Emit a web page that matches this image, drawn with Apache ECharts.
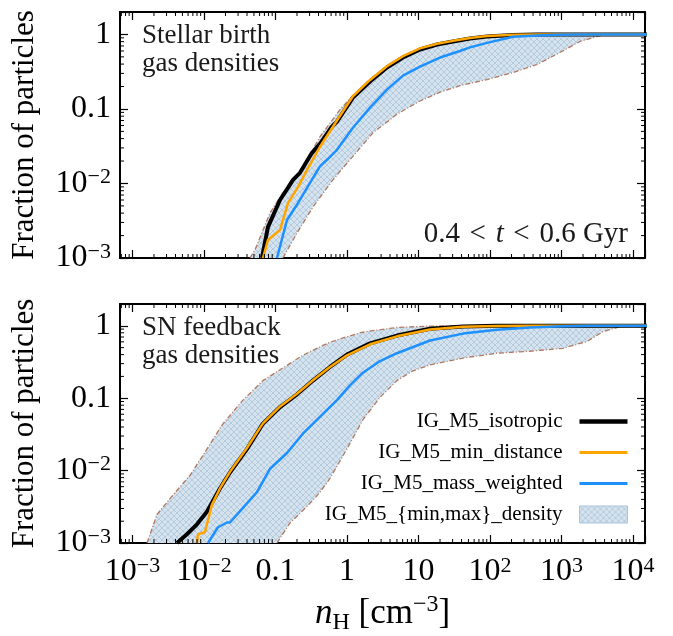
<!DOCTYPE html>
<html>
<head>
<meta charset="utf-8">
<script src="https://cdn.jsdelivr.net/npm/echarts@6/dist/echarts.min.js"></script>
<style>
  html, body { margin: 0; padding: 0; background: #fff; }
  #chart { width: 673px; height: 636px; }
</style>
</head>
<body>
<div id="chart"></div>
<script>
// cumulative fractions: [n_H (cm^-3), fraction]
// top panel: stellar birth gas densities
var birthIsotropic = [[0.0647,0.001],[0.0785,0.0026],[0.1156,0.006],[0.15,0.0088],[0.176,0.0112],[0.22,0.0139],[0.324,0.0258],[0.419,0.034],[0.616,0.058],[0.724,0.0675],[1.21,0.142],[2.1,0.233],[3.62,0.36],[6.07,0.49],[10.5,0.628],[18.2,0.733],[30.4,0.805],[52.5,0.883],[90.7,0.94],[210,0.985],[454,0.998],[952,1],[20000,1]];
var birthMinDistance = [[0.0668,0.001],[0.0785,0.00174],[0.1156,0.00238],[0.15,0.00548],[0.207,0.009],[0.276,0.0152],[0.419,0.0311],[0.724,0.07],[1.21,0.148],[2.1,0.245],[3.62,0.375],[6.07,0.51],[10.5,0.65],[18.2,0.75],[30.4,0.82],[52.5,0.895],[90.7,0.95],[210,0.99],[454,1],[20000,1]];
var birthMassWeighted = [[0.105,0.001],[0.145,0.00324],[0.207,0.00548],[0.304,0.0102],[0.419,0.017],[0.525,0.0208],[0.724,0.0283],[1.21,0.056],[2.1,0.104],[3.62,0.182],[6.07,0.28],[10.5,0.37],[20,0.49],[38,0.6],[52.5,0.67],[90.7,0.77],[210,0.93],[454,0.97],[952,0.99],[1815,1],[20000,1]];
var birthMaxBound = [[0.044,0.001],[0.0516,0.00128],[0.0838,0.00402],[0.127,0.00747],[0.2,0.0123],[0.276,0.0208],[0.419,0.0424],[0.798,0.098],[1.21,0.152],[2.1,0.25],[3.62,0.38],[6.07,0.515],[10.5,0.655],[18.2,0.755],[30.4,0.825],[52.5,0.9],[90.7,0.955],[210,0.99],[454,1],[14700,1]];
var birthMinBound = [[0.127,0.001],[0.2,0.00216],[0.334,0.00484],[0.637,0.0112],[1.1,0.0208],[2.31,0.048],[5.0,0.085],[10.5,0.128],[20,0.168],[38,0.205],[90.7,0.248],[210,0.308],[454,0.395],[952,0.573],[1815,0.805],[3140,0.94],[4330,1],[14700,1]];

// bottom panel: SN feedback gas densities
var fbIsotropic = [[0.00419,0.001],[0.00578,0.00132],[0.00798,0.00181],[0.011,0.00271],[0.0168,0.00571],[0.0231,0.0094],[0.0399,0.0198],[0.0668,0.0446],[0.116,0.0755],[0.2,0.113],[0.334,0.175],[0.578,0.27],[1.0,0.4],[2.1,0.571],[5.0,0.733],[14.5,0.91],[41.9,0.98],[125,1],[20000,1]];
var fbMinDistance = [[0.00798,0.001],[0.00824,0.00132],[0.0103,0.00141],[0.0129,0.00336],[0.0168,0.00571],[0.0231,0.0096],[0.0399,0.0205],[0.0668,0.045],[0.116,0.077],[0.2,0.115],[0.334,0.177],[0.578,0.27],[1.0,0.39],[2.1,0.555],[5.0,0.715],[14.5,0.89],[41.9,0.97],[125,0.995],[362,1],[20000,1]];
var fbMassWeighted = [[0.0114,0.001],[0.0157,0.00165],[0.021,0.00192],[0.0231,0.00192],[0.0351,0.00306],[0.0551,0.00505],[0.0838,0.0106],[0.145,0.0175],[0.243,0.0326],[0.419,0.0553],[0.724,0.094],[1.1,0.15],[1.67,0.225],[2.9,0.326],[5.0,0.418],[14.5,0.627],[41.9,0.78],[125,0.883],[362,0.95],[1050,0.985],[2275,1],[20000,1]];
var fbMaxBound = [[0.0016,0.001],[0.0022,0.00247],[0.00368,0.00459],[0.00637,0.00855],[0.011,0.0198],[0.0185,0.0446],[0.0351,0.094],[0.0668,0.175],[0.127,0.262],[0.243,0.393],[0.461,0.537],[0.578,0.59],[0.879,0.68],[1.67,0.82],[5.0,0.95],[14.5,0.99],[41.9,1],[14700,1]];
var fbMinBound = [[0.105,0.001],[0.16,0.0019],[0.276,0.0032],[0.419,0.005],[0.578,0.0078],[1.0,0.02],[1.67,0.0504],[2.9,0.103],[5.0,0.175],[8.37,0.239],[14.5,0.288],[41.9,0.358],[125,0.418],[362,0.445],[1050,0.489],[2275,0.608],[3800,0.83],[6580,0.97],[9000,1],[14700,1]];

var seriesNames = ['IG_M5_isotropic', 'IG_M5_min_distance', 'IG_M5_mass_weighted', 'IG_M5_{min,max}_density'];

var FONT = 'Liberation Serif';
var xMin = 6.7e-4, xMax = 1.47e4, yMin = 1e-3, yMax = 2;
var EDGE = 'rgba(170,100,70,0.85)';

// crosshatch fill like matplotlib 'xxx'
function makeHatch() {
  var c = document.createElement('canvas');
  c.width = 6; c.height = 6;
  var g = c.getContext('2d');
  g.fillStyle = '#d5e3ee';
  g.fillRect(0, 0, 6, 6);
  g.strokeStyle = '#b5cbdd';
  g.lineWidth = 1;
  g.beginPath();
  g.moveTo(0, 0); g.lineTo(6, 6);
  g.moveTo(6, 0); g.lineTo(0, 6);
  g.stroke();
  return { image: c, repeat: 'repeat' };
}
var HATCH = makeHatch();

// legend handle: a horizontal bar of given thickness inside a 48x17 box
// (tiny corner specks keep the box size so the bar is not stretched)
function barIcon(t) {
  var y0 = (17 - t) / 2, y1 = y0 + t;
  return 'path://M0,0L0.01,0L0,0.01Z M0,' + y0 + 'H48V' + y1 + 'H0Z M48,17L47.99,17L48,16.99Z';
}

function powLabel(v) {
  var e = Math.log10(v), k = Math.round(e);
  if (Math.abs(e - k) > 1e-6) return '';
  if (k === 0) return '1';
  if (k === 1) return '10';
  if (k === -1) return '0.1';
  return '10{sup|' + (k < 0 ? '\u2212' + (-k) : k) + '}';
}

var tickRich = {
  sup: { fontSize: 22, fontFamily: FONT, verticalAlign: 'top', lineHeight: 22 }
};

function minorValues(lo, hi) {
  var out = [];
  for (var k = -4; k <= 4; k++) {
    for (var m = 2; m <= 9; m++) {
      var v = m * Math.pow(10, k);
      if (v > lo && v < hi) out.push(v);
    }
  }
  return out;
}
var minorX = minorValues(xMin, xMax);
var minorY = minorValues(yMin, yMax);

function xAx(grid, pos, labels) {
  var ax = {
    type: 'log', logBase: 10, gridIndex: grid, position: pos, min: xMin, max: xMax,
    axisLine: { show: true, onZero: false, lineStyle: { color: '#000', width: 2 } },
    axisTick: { show: true, inside: true, length: 8, lineStyle: { color: '#000', width: 1.2 } },
    axisLabel: { show: labels, interval: 0, formatter: powLabel, margin: 12, color: '#000',
                 fontFamily: FONT, fontSize: 32, lineHeight: 34, rich: tickRich },
    splitLine: { show: false }
  };
  if (labels) {
    ax.name = '{i|n}{sub|H} [cm{sup|\u22123}]';
    ax.nameLocation = 'middle';
    ax.nameGap = 50;
    ax.nameTextStyle = {
      color: '#000', fontFamily: FONT, fontSize: 35, lineHeight: 42,
      rich: {
        i: { fontStyle: 'italic', fontSize: 35, fontFamily: FONT, lineHeight: 42 },
        sub: { fontSize: 24, fontFamily: FONT, verticalAlign: 'bottom', lineHeight: 24 },
        sup: { fontSize: 24, fontFamily: FONT, verticalAlign: 'top', lineHeight: 24 }
      }
    };
  }
  return ax;
}

function yAx(grid, pos, labels) {
  var ax = {
    type: 'log', logBase: 10, gridIndex: grid, position: pos, min: yMin, max: yMax,
    axisLine: { show: true, onZero: false, lineStyle: { color: '#000', width: 2 } },
    axisTick: { show: true, inside: true, length: 8, lineStyle: { color: '#000', width: 1.2 } },
    axisLabel: { show: labels, interval: 0, formatter: powLabel, margin: 9, color: '#000',
                 fontFamily: FONT, fontSize: 32, lineHeight: 34, rich: tickRich },
    splitLine: { show: false }
  };
  if (labels) {
    ax.name = 'Fraction of particles';
    ax.nameLocation = 'middle';
    ax.nameGap = 80;
    ax.nameTextStyle = { color: '#000', fontFamily: FONT, fontSize: 31 };
  }
  return ax;
}

function lineSeries(name, idx, data, color, width) {
  return {
    type: 'line', name: name, xAxisIndex: idx, yAxisIndex: idx, data: data,
    showSymbol: false, symbol: 'none', clip: true, z: 3,
    lineStyle: { color: color, width: width }, itemStyle: { color: color }
  };
}

function bandSeries(idx, upper, lower) {
  return {
    type: 'custom', name: seriesNames[3], xAxisIndex: idx, yAxisIndex: idx, z: 2,
    data: [upper[0]],
    itemStyle: { color: '#c9dbea' },
    renderItem: function (params, api) {
      var cs = params.coordSys;
      var up = upper.map(function (p) { return api.coord(p); });
      var lo = lower.map(function (p) { return api.coord(p); });
      var edge = { fill: null, stroke: EDGE, lineWidth: 1.3, lineDash: [5, 2, 1, 2] };
      return {
        type: 'group',
        clipPath: { type: 'rect', shape: { x: cs.x, y: cs.y, width: cs.width, height: cs.height } },
        children: [
          { type: 'polygon', shape: { points: up.concat(lo.slice().reverse()) }, style: { fill: HATCH } },
          { type: 'polyline', shape: { points: up }, style: edge },
          { type: 'polyline', shape: { points: lo }, style: edge }
        ]
      };
    }
  };
}

// minor ticks at 2..9 x 10^k on all four sides
function minorTickSeries(idx) {
  return [{
    type: 'custom', xAxisIndex: idx, yAxisIndex: idx, silent: true, z: 5,
    data: minorX.map(function (v) { return [v, yMin]; }),
    renderItem: function (params, api) {
      var cs = params.coordSys;
      var p = api.coord([api.value(0), yMin]);
      var st = { stroke: '#000', lineWidth: 1 };
      return { type: 'group', children: [
        { type: 'line', shape: { x1: p[0], y1: cs.y + cs.height, x2: p[0], y2: cs.y + cs.height - 4 }, style: st },
        { type: 'line', shape: { x1: p[0], y1: cs.y, x2: p[0], y2: cs.y + 4 }, style: st }
      ] };
    }
  }, {
    type: 'custom', xAxisIndex: idx, yAxisIndex: idx, silent: true, z: 5,
    data: minorY.map(function (v) { return [1, v]; }),
    renderItem: function (params, api) {
      var cs = params.coordSys;
      var p = api.coord([1, api.value(1)]);
      var st = { stroke: '#000', lineWidth: 1 };
      return { type: 'group', children: [
        { type: 'line', shape: { x1: cs.x, y1: p[1], x2: cs.x + 4, y2: p[1] }, style: st },
        { type: 'line', shape: { x1: cs.x + cs.width, y1: p[1], x2: cs.x + cs.width - 4, y2: p[1] }, style: st }
      ] };
    }
  }];
}

var chart = echarts.init(document.getElementById('chart'));
chart.setOption({
  animation: false,
  backgroundColor: '#fff',
  grid: [
    { left: 120, top: 12, width: 525, height: 246 },
    { left: 120, top: 304, width: 525, height: 245 }
  ],
  xAxis: [xAx(0, 'bottom', false), xAx(0, 'top', false), xAx(1, 'bottom', true), xAx(1, 'top', false)],
  yAxis: [yAx(0, 'left', true), yAx(0, 'right', false), yAx(1, 'left', true), yAx(1, 'right', false)],
  legend: {
    orient: 'vertical', align: 'right', right: 40, top: 406,
    itemWidth: 48, itemHeight: 17, itemGap: 10,
    textStyle: { fontFamily: FONT, fontSize: 21, color: '#000', padding: [0, 12, 0, 0] },
    data: [
      { name: seriesNames[0], icon: barIcon(4.5), itemStyle: { color: '#000' } },
      { name: seriesNames[1], icon: barIcon(2.8), itemStyle: { color: '#ffa500' } },
      { name: seriesNames[2], icon: barIcon(2.8), itemStyle: { color: '#1e90ff' } },
      { name: seriesNames[3], icon: 'rect', itemStyle: { color: HATCH, borderColor: '#aac4da', borderWidth: 1 } }
    ]
  },
  graphic: [
    { type: 'text', x: 142, y: 22, style: { text: 'Stellar birth\ngas densities', fontFamily: FONT, fontSize: 27, lineHeight: 28, fill: '#1a1a1a' } },
    { type: 'text', x: 628, y: 234, style: { text: '0.4\u2004<\u2004{i|t}\u2004<\u20040.6 Gyr', align: 'right', verticalAlign: 'middle', fontFamily: FONT, fontSize: 29, fill: '#1a1a1a',
      rich: { i: { fontStyle: 'italic', fontFamily: FONT, fontSize: 29 } } } },
    { type: 'text', x: 142, y: 314, style: { text: 'SN feedback\ngas densities', fontFamily: FONT, fontSize: 27, lineHeight: 28, fill: '#1a1a1a' } }
  ],
  series: [
    bandSeries(0, birthMaxBound, birthMinBound),
    lineSeries(seriesNames[0], 0, birthIsotropic, '#000', 4),
    lineSeries(seriesNames[1], 0, birthMinDistance, '#ffa500', 2.5),
    lineSeries(seriesNames[2], 0, birthMassWeighted, '#1e90ff', 2.5),
    bandSeries(2, fbMaxBound, fbMinBound),
    lineSeries(seriesNames[0], 2, fbIsotropic, '#000', 4),
    lineSeries(seriesNames[1], 2, fbMinDistance, '#ffa500', 2.5),
    lineSeries(seriesNames[2], 2, fbMassWeighted, '#1e90ff', 2.5)
  ].concat(minorTickSeries(0), minorTickSeries(2))
});
</script>
</body>
</html>
